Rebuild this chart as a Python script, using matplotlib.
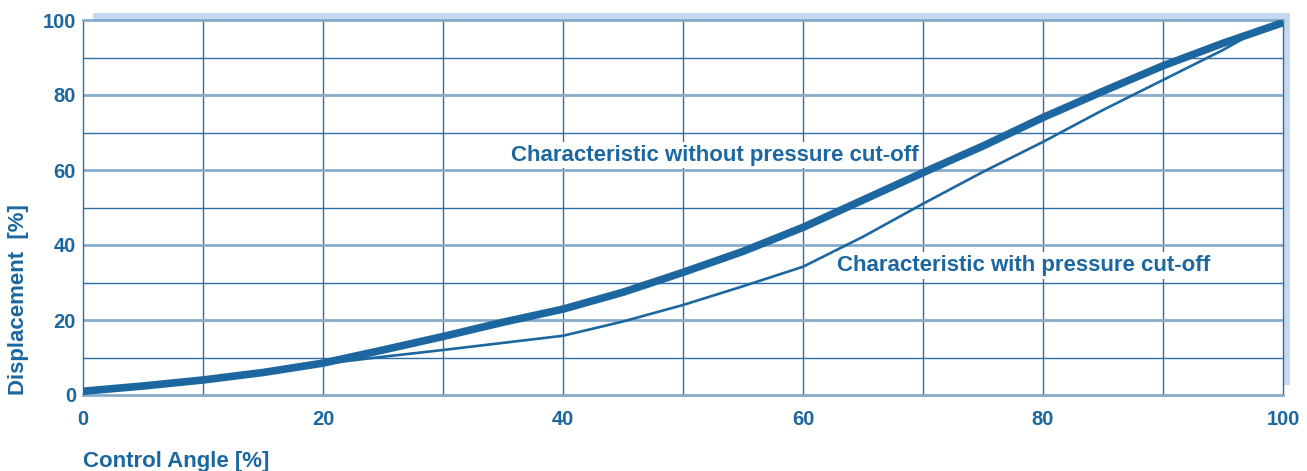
import matplotlib
matplotlib.use("Agg")
import matplotlib.pyplot as plt
from matplotlib.patches import Rectangle

# Data
angle_without = [0, 5, 10, 15, 20, 25, 30, 35, 40, 45, 50, 55, 60, 65, 70, 75, 80, 85, 90, 95, 100]
disp_without = [1.0, 2.4, 4.0, 6.0, 8.5, 12.0, 15.6, 19.4, 22.9, 27.4, 32.7, 38.3, 44.7, 52.0, 59.3, 66.4, 74.0, 81.0, 87.8, 93.8, 99.3]

angle_with = [0, 5, 10, 15, 20, 25, 30, 35, 40, 45, 50, 55, 60, 65, 70, 75, 80, 85, 90, 95, 97, 100]
disp_with = [1.0, 2.4, 4.0, 6.0, 8.3, 10.2, 12.0, 13.9, 15.8, 19.6, 24.0, 29.0, 34.2, 42.2, 51.0, 59.5, 67.5, 76.0, 84.0, 92.0, 95.6, 99.3]

x_ticks = [0, 20, 40, 60, 80, 100]
y_ticks = [0, 20, 40, 60, 80, 100]
x_label = "Control Angle [%]"
y_label = "Displacement  [%]"
label_without = "Characteristic without pressure cut-off"
label_with = "Characteristic with pressure cut-off"

BLUE = "#1c67a0"
LIGHT = "#86abcb"
DARK = "#2f6ea4"
SHADOW = "#c5daf0"

plt.rcParams['font.family'] = ['Liberation Sans', 'DejaVu Sans']

W, H = 1307, 471
fig = plt.figure(figsize=(W / 100, H / 100), dpi=100)
L, R, T, B = 83, 1283, 20, 395
ax = fig.add_axes([L / W, 1 - B / H, (R - L) / W, (B - T) / H])

# drop shadow behind the plot area
fig.patches.append(Rectangle(((L + 10) / W, 1 - (B - 10) / H), (R + 7 - L - 10) / W, (B - 10 - T + 7) / H,
                             transform=fig.transFigure, facecolor=SHADOW, edgecolor='none', zorder=0))
ax.set_zorder(1)
ax.set_facecolor('white')

ax.set_xlim(0, 100)
ax.set_ylim(0, 100)

for v in range(10, 100, 10):
    ax.axvline(v, color=DARK, lw=1.0, zorder=1)
for v in range(10, 100, 10):
    if v % 20 == 0:
        ax.axhline(v, color=LIGHT, lw=2.0, zorder=1)
    else:
        ax.axhline(v, color=DARK, lw=1.0, zorder=1)

for s in ['left', 'right']:
    ax.spines[s].set_color(DARK)
    ax.spines[s].set_linewidth(1.0)
for s in ['top', 'bottom']:
    ax.spines[s].set_color(LIGHT)
    ax.spines[s].set_linewidth(2.0)

ax.plot(angle_with, disp_with, color=BLUE, lw=1.9, solid_capstyle='round', solid_joinstyle='round', zorder=3)
ax.plot(angle_without, disp_without, color=BLUE, lw=5.5, solid_capstyle='round', solid_joinstyle='round', zorder=4)

ax.set_xticks(x_ticks)
ax.set_yticks(y_ticks)
ax.tick_params(length=0, colors=BLUE, labelsize=14.5)
ax.tick_params(axis='x', pad=11)
ax.tick_params(axis='y', pad=5)
for lab in ax.get_xticklabels() + ax.get_yticklabels():
    lab.set_fontweight('bold')
    lab.set_color(BLUE)

fig.text(L / W, 1 - 461 / H, x_label, color=BLUE, fontsize=16, fontweight='bold', ha='left', va='center')
fig.text(19 / W, 1 - 300 / H, y_label, color=BLUE, fontsize=16, fontweight='bold', rotation=90,
         ha='center', va='center')

box = dict(facecolor='white', edgecolor='none', pad=2)
ax.text(35.7, 64.0, label_without, color=BLUE, fontsize=16, fontweight='bold', ha='left', va='center',
        bbox=box, zorder=5)
ax.text(62.8, 34.5, label_with, color=BLUE, fontsize=16, fontweight='bold', ha='left', va='center',
        bbox=box, zorder=5)

fig.savefig("out.png", dpi=100)
